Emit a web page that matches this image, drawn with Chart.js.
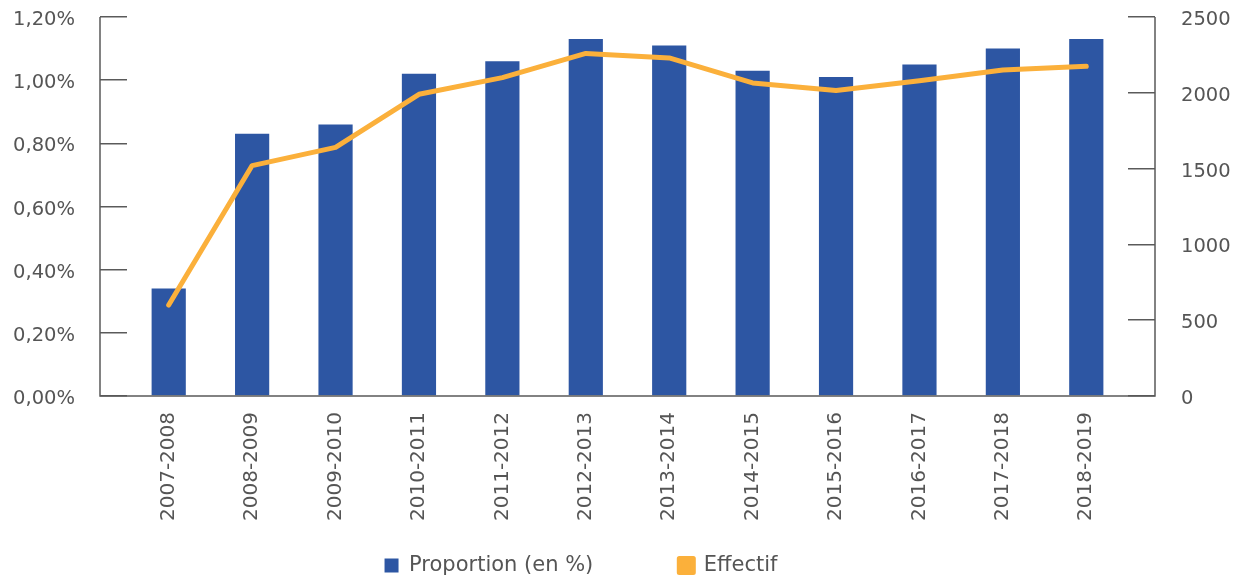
<!DOCTYPE html>
<html>
<head>
<meta charset="utf-8">
<script src="https://cdn.jsdelivr.net/npm/chart.js@4"></script>
<style>
  html, body { margin: 0; padding: 0; background: #fff; overflow: hidden; }
  .wrap { width: 1238px; height: 659px; position: relative; }
</style>
</head>
<body>
<div class="wrap"><canvas id="myChart"></canvas></div>
<script>
const labels = ['2007-2008', '2008-2009', '2009-2010', '2010-2011', '2011-2012', '2012-2013',
  '2013-2014', '2014-2015', '2015-2016', '2016-2017', '2017-2018', '2018-2019'];
const proportion = [0.34, 0.83, 0.86, 1.02, 1.06, 1.13, 1.11, 1.03, 1.01, 1.05, 1.10, 1.13];
const effectif = [600, 1520, 1640, 1990, 2100, 2260, 2230, 2065, 2015, 2080, 2150, 2175];

const axisColor = '#5a5a5a';
const textColor = '#555555';
const TICK = 27;

// axis frame: lines sit on the outer end of the tick marks
const framePlugin = {
  id: 'frame',
  afterDraw(chart) {
    const { ctx, chartArea, scales } = chart;
    const top = scales.y.getPixelForValue(1.2);
    const bottom = scales.y.getPixelForValue(0);
    const l = chartArea.left - TICK;
    const r = chartArea.right + TICK;
    ctx.save();
    ctx.strokeStyle = axisColor;
    ctx.lineWidth = 1.5;
    ctx.beginPath();
    ctx.moveTo(l, top);
    ctx.lineTo(l, bottom);
    ctx.lineTo(r, bottom);
    ctx.lineTo(r, top);
    ctx.stroke();
    ctx.restore();
  }
};

// legend sits left of centre and tucked up under the labels in the original
const legendShift = {
  id: 'legendShift',
  afterLayout(chart) {
    const lg = chart.legend;
    lg.left -= 38;
    lg.right -= 38;
    lg.top -= 73;
    lg.bottom -= 73;
  }
};

// fixed width for the side axes, and no extra top/bottom room from tick padding
const sideAxis = (w) => (scale) => {
  scale.width = w;
  scale.paddingTop = 0;
  scale.paddingBottom = 0;
};

const canvas = document.getElementById('myChart');
const ctx = canvas.getContext('2d');

new Chart(ctx, {
  data: {
    labels: labels,
    datasets: [
      {
        type: 'bar',
        label: 'Proportion (en %)',
        data: proportion,
        backgroundColor: '#2d56a3',
        yAxisID: 'y',
        order: 2,
        categoryPercentage: 1,
        barPercentage: 0.41,
      },
      {
        type: 'line',
        label: 'Effectif',
        data: effectif,
        borderColor: '#fbb03b',
        backgroundColor: '#fbb03b',
        borderWidth: 5,
        pointRadius: 0,
        tension: 0,
        borderCapStyle: 'round',
        borderJoinStyle: 'round',
        yAxisID: 'y1',
        order: 1,
      },
    ],
  },
  options: {
    responsive: true,
    maintainAspectRatio: false,
    animation: false,
    layout: { padding: { left: 0, right: 0, top: 17, bottom: 0 } },
    plugins: {
      legend: {
        position: 'bottom',
        labels: {
          boxWidth: 14,
          boxHeight: 14,
          padding: 86,
          color: textColor,
          font: { family: 'DejaVu Sans', size: 21 },
          sort: (a, b) => a.datasetIndex - b.datasetIndex,
        },
      },
      tooltip: { enabled: false },
    },
    scales: {
      x: {
        grid: { display: false, drawTicks: false },
        border: { display: false },
        afterFit: (scale) => { scale.height = 146; },
        ticks: {
          minRotation: 90,
          maxRotation: 90,
          padding: 16,
          color: textColor,
          font: { family: 'DejaVu Sans', size: 20 },
        },
      },
      y: {
        position: 'left',
        min: 0,
        max: 1.2,
        afterFit: sideAxis(127),
        grid: { drawOnChartArea: false, tickLength: TICK, color: axisColor, lineWidth: 1.5 },
        border: { display: false },
        ticks: {
          stepSize: 0.2,
          padding: 25,
          labelOffset: 3,
          color: textColor,
          font: { family: 'DejaVu Sans', size: 19.5 },
          callback: (v) => v.toFixed(2).replace('.', ',') + '%',
        },
      },
      y1: {
        position: 'right',
        min: 0,
        max: 2500,
        afterFit: sideAxis(110),
        grid: { drawOnChartArea: false, tickLength: TICK, color: axisColor, lineWidth: 1.5 },
        border: { display: false },
        ticks: {
          stepSize: 500,
          padding: 26,
          labelOffset: 3,
          color: textColor,
          font: { family: 'DejaVu Sans', size: 19.5 },
          callback: (v) => String(v),
        },
      },
    },
  },
  plugins: [framePlugin, legendShift],
});
</script>
</body>
</html>
